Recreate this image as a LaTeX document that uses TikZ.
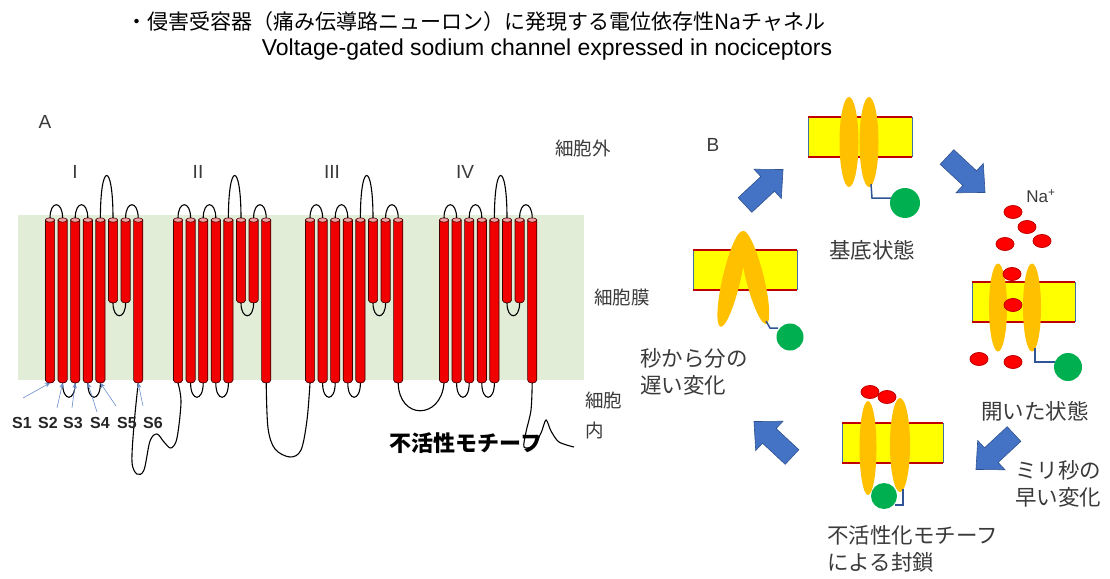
\documentclass[tikz,border=0pt]{standalone}
\usepackage{fontspec}
\setmainfont{Liberation Sans}
\newfontfamily\jp{Noto Sans CJK JP}
\usetikzlibrary{arrows.meta}

\definecolor{memgreen}{HTML}{E2EDD8}
\definecolor{helixred}{HTML}{F00000}
\definecolor{helixedge}{HTML}{400000}
\definecolor{capred}{HTML}{F4A0A0}
\definecolor{bilayer}{HTML}{FFFF00}
\definecolor{lipidred}{HTML}{C00000}
\definecolor{sideblue}{HTML}{41719C}
\definecolor{subunit}{HTML}{FFC000}
\definecolor{gatecol}{HTML}{00B050}
\definecolor{tethercol}{HTML}{2F5597}
\definecolor{flowfill}{HTML}{4472C4}
\definecolor{flowedge}{HTML}{2F528F}
\definecolor{ioncol}{HTML}{FF0000}
\definecolor{pointercol}{HTML}{6A8FCC}
\definecolor{labelgray}{HTML}{3A3A3A}

% one transmembrane helix: centre x, bottom y, name prefix
\newcommand\helix[3]{%
  \filldraw[helix] (#1-4.6,220) -- (#1-4.6,#2)
    arc[start angle=180,end angle=0,x radius=4.6,y radius=3] -- (#1+4.6,220) -- cycle;
  \filldraw[helixcap] (#1,220) ellipse[x radius=4.6,y radius=2.2];
  \coordinate (#3t) at (#1,218.2);
  \coordinate (#3b) at (#1,#2+3);
}
% membrane slab of panel B
\newcommand\slab[4]{%
  \fill[bilayer] (#1,#2) rectangle (#3,#4);
  \draw[slabside] (#1,#2) -- (#1,#4) (#3,#2) -- (#3,#4);
  \draw[slabedge] (#1,#2) -- (#3,#2) (#1,#4) -- (#3,#4);
}
% block arrow: tail x, tail y, direction
\newcommand\flowarrow[3]{%
  \filldraw[flowarrow, shift={(#1,#2)}, rotate=#3]
    (0,-10) -- (31,-10) -- (31,-20) -- (52,0) -- (31,20) -- (31,10) -- (0,10) -- cycle;
}

\begin{document}
\begin{tikzpicture}[x=1pt,y=-1pt,
  helix/.style={fill=helixred, draw=helixedge, line width=0.7},
  helixcap/.style={fill=capred, draw=helixedge, line width=0.6},
  peptide/.style={draw=black, line width=1.1},
  pointer/.style={draw=pointercol, line width=0.6, -{Stealth[length=5pt,width=4.5pt]}},
  slabside/.style={draw=sideblue, line width=0.8},
  slabedge/.style={draw=lipidred, line width=2.6},
  subunitshape/.style={fill=subunit},
  gateshape/.style={fill=gatecol},
  tetherline/.style={draw=tethercol, line width=1.5},
  ionshape/.style={fill=ioncol, draw=lipidred, line width=0.8},
  flowarrow/.style={fill=flowfill, draw=flowedge, line width=0.6},
  jplabel/.style={font=\jp\fontsize{21.5}{27}\selectfont, text=labelgray, inner sep=0, align=left},
  alabel/.style={font=\jp\fontsize{18.5}{30}\selectfont, text=labelgray, inner sep=0, align=left},
  romanlabel/.style={font=\fontsize{19}{22}\selectfont, text=labelgray, inner sep=0},
  seglabel/.style={font=\bfseries\fontsize{16}{18}\selectfont, text=black!85, inner sep=0}
]
\fill[white] (0,0) rectangle (1110,578);
\useasboundingbox (0,0) rectangle (1110,578);

% titles
\node[font=\jp\fontsize{21}{25}\selectfont, inner sep=0] (title) at (476,22)
  {・侵害受容器（痛み伝導路ニューロン）に発現する電位依存性Naチャネル};
\node[font=\fontsize{23}{27}\selectfont, inner sep=0] (subtitle) at (547,50)
  {Voltage-gated sodium channel expressed in nociceptors};

% ---------------- panel A ----------------
\node[romanlabel] (lblA) at (45,122) {A};
\fill[memgreen] (18,215) rectangle (584,380);

\node[romanlabel] (dI) at (75,172) {I};
\node[romanlabel] (dII) at (198,172) {II};
\node[romanlabel] (dIII) at (332,172) {III};
\node[romanlabel] (dIV) at (465,172) {IV};

\foreach \d/\s in {1/50,2/178,3/310,4/444}{
  \foreach \k in {0,...,7}{
    \pgfmathsetmacro\cx{\s+12.6*\k}
    \ifnum\k=5 \def\yb{300}\else\ifnum\k=6 \def\yb{300}\else\def\yb{380}\fi\fi
    \helix{\cx}{\yb}{d\d h\k}
  }
}

% extracellular and intracellular loops of each domain
\foreach \d in {1,...,4}{
  \draw[peptide] (d\d h0t) .. controls +(0,-18) and +(0,-18) .. (d\d h1t);
  \draw[peptide] (d\d h2t) .. controls +(0,-18) and +(0,-18) .. (d\d h3t);
  \draw[peptide] (d\d h4t) .. controls +(0,-57) and +(0,-57) .. (d\d h5t);
  \draw[peptide] (d\d h6t) .. controls +(0,-18) and +(0,-18) .. (d\d h7t);
  \draw[peptide] (d\d h1b) .. controls +(0,19) and +(0,19) .. (d\d h2b);
  \draw[peptide] (d\d h3b) .. controls +(0,19) and +(0,19) .. (d\d h4b);
  \draw[peptide] (d\d h5b) .. controls +(0,17) and +(0,17) .. (d\d h6b);
}

% linkers between domains and the C-terminal tail
\draw[peptide] plot[smooth, tension=0.55] coordinates {(d1h7b) (134,425) (132,462) (137,474) (144,470) (150,441) (157,434) (164,442) (171,448) (177,438) (181,402) (d2h0b)};
\draw[peptide] plot[smooth, tension=0.55] coordinates {(d2h7b) (268,428) (275,449) (290,457) (301,450) (307,420) (d3h0b)};
\draw[peptide] (d3h7b) .. controls (399,420) and (441,420) .. (d4h0b);
\draw[peptide] plot[smooth, tension=0.5] coordinates {(d4h7b) (531,410) (526,432) (524,447) (533,446) (541,433) (546,420) (551,431) (559,442) (574,447)};

\node[font=\jp\bfseries\fontsize{22}{26}\selectfont, inner sep=0] (motif) at (466,443) {不活性モチーフ};

% segment labels
\node[seglabel] (s1) at (22,423) {S1};
\node[seglabel] (s2) at (48,423) {S2};
\node[seglabel] (s3) at (73,423) {S3};
\node[seglabel] (s4) at (100,423) {S4};
\node[seglabel] (s5) at (127,423) {S5};
\node[seglabel] (s6) at (153,423) {S6};
\coordinate (p1) at (23,398);
\coordinate (p2) at (57,408);
\coordinate (p3) at (72,408);
\coordinate (p4) at (97,412);
\coordinate (p5) at (116,406);
\coordinate (p6) at (143,406);
\draw[pointer] (p1) -- (d1h0b);
\draw[pointer] (p2) -- (d1h1b);
\draw[pointer] (p3) -- (d1h2b);
\draw[pointer] (p4) -- (d1h3b);
\draw[pointer] (p5) -- (d1h4b);
\draw[pointer] (p6) -- (d1h7b);

\node[alabel] (outside) at (583,148) {細胞外};
\node[alabel] (membrane) at (622,297) {細胞膜};
\node[alabel, anchor=west] (inside) at (585,415) {細胞\\内};

% ---------------- panel B ----------------
\node[romanlabel] (lblB) at (713,145) {B};

% resting state
\slab{808}{117}{912}{157}
\fill[subunitshape] (849,142) ellipse[x radius=9.5,y radius=45];
\fill[subunitshape] (869,142) ellipse[x radius=9.5,y radius=45];
\draw[tetherline] (871,184) -- (872,198) -- (891,198);
\fill[gateshape] (905,203) circle[radius=15];
\node[jplabel] (rest) at (872,250) {基底状態};

% open state
\slab{972}{282}{1075}{322}
\fill[subunitshape] (998,307.5) ellipse[x radius=9,y radius=44];
\fill[subunitshape] (1032,307.5) ellipse[x radius=9,y radius=44];
\draw[tetherline] (1035,348) -- (1035,362) -- (1055,362);
\fill[gateshape] (1068,367) circle[radius=14];
\foreach \p in {(1013,212),(1027,227),(1005,244),(1042,241),(1012,274),(1013,305),(979,359),(1013,362)}
  \filldraw[ionshape] \p ellipse[x radius=9,y radius=6.5];
\node[font=\fontsize{17}{20}\selectfont, text=labelgray, inner sep=0] (naion) at (1041,196) {Na\textsuperscript{+}};
\node[jplabel] (openlbl) at (1035,411) {開いた状態};

% inactivated state
\slab{842}{423}{943}{463}
\fill[subunitshape] (868,448) ellipse[x radius=8.5,y radius=47];
\fill[subunitshape] (900,445) ellipse[x radius=10,y radius=47];
\draw[tetherline] (903,489) -- (903,505) -- (895,505);
\fill[gateshape] (884,496) circle[radius=13];
\foreach \p in {(870,392),(887,397)}
  \filldraw[ionshape] \p ellipse[x radius=9,y radius=6.5];
\node[jplabel, anchor=west] (blocked) at (827,548.5) {不活性化モチーフ\\による封鎖};

% slowly recovering state
\slab{693}{250}{797}{290}
\fill[subunitshape, rotate around={-13:(731.5,279)}] (731.5,279) ellipse[x radius=9,y radius=49];
\fill[subunitshape, rotate around={14:(754.7,277.5)}] (754.7,277.5) ellipse[x radius=9,y radius=48];
\draw[tetherline] (766,321) -- (770,328) -- (778,328);
\fill[gateshape] (790,337) circle[radius=13.5];
\node[jplabel, anchor=west] (slow) at (640,372) {秒から分の\\遅い変化};

\node[jplabel, anchor=west] (fast) at (1015,483.5) {ミリ秒の\\早い変化};

% transitions
\flowarrow{745}{205}{43}
\flowarrow{947}{157}{-43}
\flowarrow{1014}{434}{-137}
\flowarrow{792}{457}{137}
\end{tikzpicture}
\end{document}
